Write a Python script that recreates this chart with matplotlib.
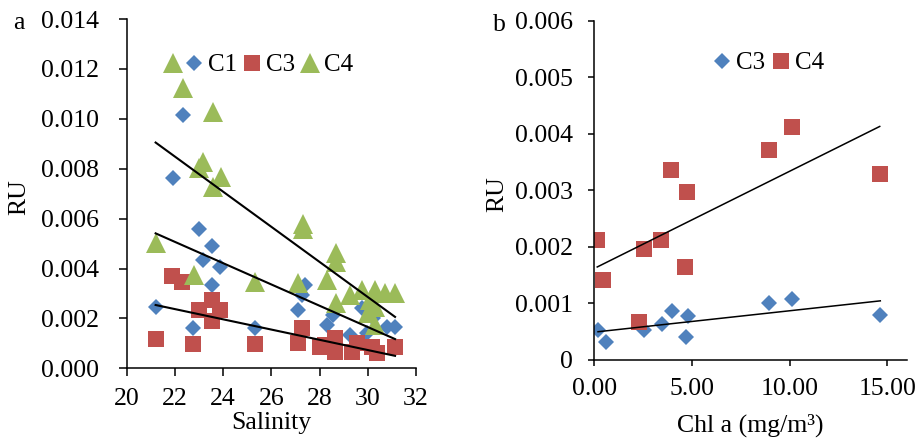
import numpy as np
import matplotlib

matplotlib.use("Agg")
import matplotlib.pyplot as plt
from matplotlib.ticker import FuncFormatter, MultipleLocator


BLUE = "#4F81BD"
RED = "#C0504D"
GREEN = "#9BBB59"

# panel a: salinity vs RU
c1_sal = [22.35, 21.93, 23.0, 23.55, 23.18, 23.87, 23.55, 21.2, 22.76, 25.32,
          27.4, 27.26, 27.12, 28.3, 28.57, 29.75, 29.27, 30.23, 30.79, 31.13, 29.96]
c1_ru = [0.01015, 0.00764, 0.00557, 0.00490, 0.00434, 0.00407, 0.00334, 0.00244, 0.00160, 0.00163,
         0.00334, 0.00294, 0.00234, 0.00174, 0.00214, 0.00240, 0.00134, 0.00200, 0.00167, 0.00167, 0.00140]

c3_sal = [21.89, 22.31, 23.53, 23.0, 23.87, 23.53, 21.2, 22.76, 25.32, 27.26,
          27.1, 28.23, 28.64, 28.64, 29.54, 29.34, 30.16, 30.37, 31.13, 28.0]
c3_ru = [0.00370, 0.00347, 0.00274, 0.00234, 0.00234, 0.00191, 0.00116, 0.00096, 0.00096, 0.00160,
         0.00100, 0.00093, 0.00120, 0.00067, 0.00100, 0.00067, 0.00087, 0.00060, 0.00087, 0.00087]

c4_sal = [21.92, 22.35, 23.57, 23.16, 23.0, 23.92, 23.58, 21.2, 22.79, 25.32,
          27.33, 27.33, 28.67, 28.67, 27.12, 28.32, 29.27, 29.75, 30.3, 30.72,
          31.13, 28.67, 30.1, 30.3, 30.3, 30.0]
c4_ru = [0.01224, 0.01122, 0.01028, 0.00826, 0.00803, 0.00767, 0.00727, 0.00501, 0.00374, 0.00347,
         0.00580, 0.00560, 0.00461, 0.00427, 0.00343, 0.00354, 0.00294, 0.00314, 0.00314, 0.00300,
         0.00300, 0.00260, 0.00274, 0.00247, 0.00174, 0.00220]

# panel b: Chl a vs RU
b_c3_chl = [0.19, 0.60, 2.56, 3.46, 3.98, 4.79, 4.69, 8.94, 10.15, 14.65]
b_c3_ru = [0.00053, 0.00032, 0.00053, 0.00064, 0.00087, 0.00078, 0.00041, 0.00101, 0.00107, 0.00080]

b_c4_chl = [0.15, 0.46, 2.56, 2.31, 3.40, 3.93, 4.74, 4.64, 8.94, 10.12, 14.62]
b_c4_ru = [0.00212, 0.00141, 0.00196, 0.00068, 0.00212, 0.00336, 0.00297, 0.00165, 0.00371, 0.00412, 0.00329]


def trend(ax, x, y, lw):
    x = np.asarray(x)
    k, b = np.polyfit(x, y, 1)
    xs = np.array([x.min(), x.max()])
    ax.plot(xs, k * xs + b, color="black", lw=lw, zorder=5)


def style_axes(ax, tick_len, pad_x, pad_y):
    ax.spines["top"].set_visible(False)
    ax.spines["right"].set_visible(False)
    for s in ("left", "bottom"):
        ax.spines[s].set_linewidth(1.1)
    ax.tick_params(axis="both", direction="out", length=tick_len, width=1.1, labelsize=18.5)
    ax.tick_params(axis="x", pad=pad_x)
    ax.tick_params(axis="y", pad=pad_y)


plt.rcParams["font.family"] = ["Liberation Serif", "DejaVu Serif"]

fig = plt.figure(figsize=(9.2, 4.43), dpi=100)

# ---- panel a
ax1 = fig.add_axes([0.1377, 0.1686, 0.3145, 0.7885])
ax1.plot(c1_sal, c1_ru, "D", ms=8.5, color=BLUE, mew=0, label="C1")
ax1.plot(c3_sal, c3_ru, "s", ms=12, color=RED, mew=0, label="C3")
ax1.plot(c4_sal, c4_ru, "^", ms=13.7, color=GREEN, mew=0, label="C4")
trend(ax1, c1_sal, c1_ru, 1.5)
trend(ax1, c3_sal, c3_ru, 1.5)
trend(ax1, c4_sal, c4_ru, 1.5)
ax1.set_xlim(20, 32)
ax1.set_ylim(0, 0.014)
ax1.xaxis.set_major_locator(MultipleLocator(2))
ax1.yaxis.set_major_locator(MultipleLocator(0.002))
ax1.yaxis.set_major_formatter(FuncFormatter(lambda v, p: f"{v:.3f}"))
style_axes(ax1, 6, 8, 14)
ax1.set_xlabel("Salinity", fontsize=18.5, va="center")
ax1.xaxis.set_label_coords(0.501, -0.157)
ax1.set_ylabel("RU", fontsize=18.5, va="center")
ax1.yaxis.set_label_coords(-0.372, 0.49)
ax1.legend(loc="center left", bbox_to_anchor=(183 / 920, 1 - 65 / 443), bbox_transform=fig.transFigure,
           ncol=3, frameon=False, fontsize=18, borderpad=0, handlelength=0.9, handletextpad=0.1,
           columnspacing=0.15, borderaxespad=0)

# ---- panel b
ax2 = fig.add_axes([0.646, 0.1874, 0.3395, 0.7663])
ax2.plot(b_c3_chl, b_c3_ru, "D", ms=8, color=BLUE, mew=0, label="C3")
ax2.plot(b_c4_chl, b_c4_ru, "s", ms=11.3, color=RED, mew=0, label="C4")
trend(ax2, b_c3_chl, b_c3_ru, 1.1)
trend(ax2, b_c4_chl, b_c4_ru, 1.1)
ax2.set_xlim(0, 16)
ax2.set_ylim(0, 0.006)
ax2.xaxis.set_major_locator(MultipleLocator(5))
ax2.yaxis.set_major_locator(MultipleLocator(0.001))
ax2.xaxis.set_major_formatter(FuncFormatter(lambda v, p: f"{v:.2f}"))
ax2.yaxis.set_major_formatter(FuncFormatter(lambda v, p: "0" if abs(v) < 1e-12 else f"{v:.3f}"))
style_axes(ax2, 4, 9, 11.5)
ax2.set_xlabel("Chl a (mg/m³)", fontsize=18.5, va="center")
ax2.xaxis.set_label_coords(0.498, -0.191)
ax2.set_ylabel("RU", fontsize=18.5, va="center")
ax2.yaxis.set_label_coords(-0.311, 0.489)
ax2.legend(loc="center left", bbox_to_anchor=(711 / 920, 1 - 63 / 443), bbox_transform=fig.transFigure,
           ncol=2, frameon=False, fontsize=18, borderpad=0, handlelength=0.9, handletextpad=0.1,
           columnspacing=0.2, borderaxespad=0)

fig.text(19 / 920, 1 - 23 / 443, "a", fontsize=18.5, ha="center", va="center")
fig.text(499 / 920, 1 - 25 / 443, "b", fontsize=18.5, ha="center", va="center")

fig.savefig("out.png", dpi=100)
